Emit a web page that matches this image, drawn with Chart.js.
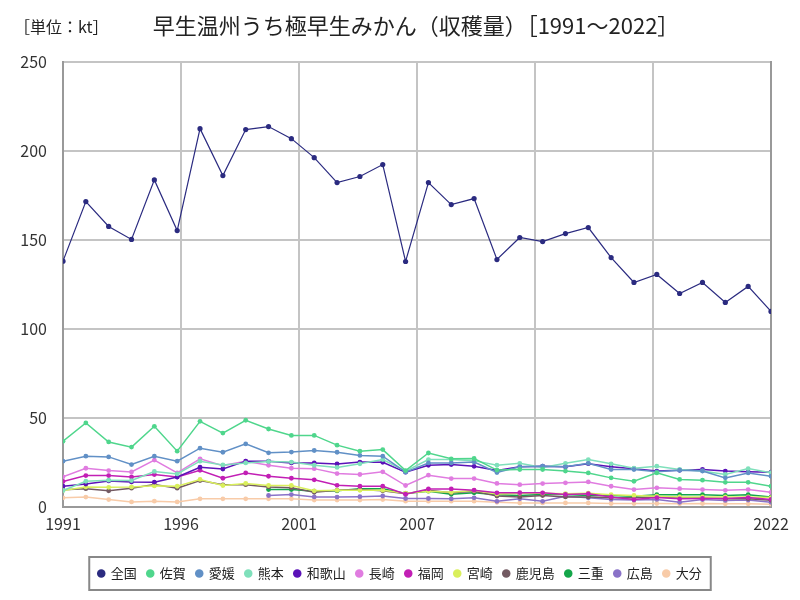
<!DOCTYPE html>
<html>
<head>
<meta charset="utf-8">
<script src="https://cdn.jsdelivr.net/npm/chart.js@4.4.1/dist/chart.umd.min.js"></script>
<style>
  html, body { margin: 0; padding: 0; background: #fff; }
  #wrap { width: 800px; height: 600px; }
</style>
</head>
<body>
<div id="wrap"><canvas id="chart" width="800" height="600"></canvas></div>
<script>
// 早生温州うち極早生みかん 収穫量 (kt), 1991-2022
const titleText = '早生温州うち極早生みかん（収穫量）［1991～2022］';
const unitLabel = '［単位：kt］';

const years = [1991, 1992, 1993, 1994, 1995, 1996, 1997, 1998, 1999, 2000, 2001, 2002, 2003, 2004, 2005, 2006,
               2007, 2008, 2009, 2010, 2011, 2012, 2013, 2014, 2015, 2016, 2017, 2018, 2019, 2020, 2021, 2022];

const zenkoku = [138, 171.5, 157.5, 150.2, 183.7, 155.2, 212.5, 186.1, 212, 213.7, 206.9, 196.2, 182.2, 185.6, 192.3, 137.8,
                 182.2, 169.8, 173.2, 138.9, 151.3, 149, 153.5, 156.9, 140, 126, 130.5, 119.8, 126, 114.8, 123.8, 109.7];
const saga = [36.7, 47, 36.3, 33.4, 45.1, 31.1, 47.9, 41.3, 48.5, 43.6, 40, 40, 34.5, 31.1, 32, 20.2,
              30.1, 26.8, 27, 20.5, 20.8, 20.8, 19.9, 18.9, 16.1, 14.2, 18.9, 15.2, 14.8, 13.6, 13.6, 11.4];
const ehime = [25.5, 28.3, 27.9, 23.6, 28.3, 25.5, 32.8, 30.5, 35.2, 30.2, 30.6, 31.5, 30.5, 28.7, 28.3, 19.3,
               24.5, 24.5, 25, 19.1, 22.3, 22.7, 22.3, 24.3, 20.8, 20.8, 19.5, 20.4, 19.9, 16.1, 18.9, 17];
const kumamoto = [9, 14.2, 14.8, 14.6, 19.7, 18.3, 25.5, 23.4, 24.5, 25.3, 25, 23.2, 22, 24, 26.4, 19.9,
                  26.4, 26.4, 25.8, 23.2, 24.3, 22, 24.3, 26.4, 24, 21.5, 22.7, 20.8, 20, 18, 21.3, 19];
const wakayama = [11.4, 12.6, 14.4, 13.8, 13.7, 16.6, 22.1, 21.1, 25.5, 25.5, 24.5, 24.5, 23.9, 25, 24.9, 19.3,
                  23.2, 23.6, 22.6, 20.2, 22.3, 22.7, 22.3, 24.1, 22.3, 21.3, 19.9, 20.4, 20.8, 19.9, 19.5, 19.3];
const nagasaki = [16.7, 21.5, 20.2, 19.4, 26.1, 18.9, 26.8, 23, 25.5, 23.2, 21.5, 21.3, 18.5, 18, 19.5, 11.8,
                  17.6, 15.7, 15.7, 13, 12.3, 12.9, 13.3, 13.8, 11.4, 9.5, 10.5, 10, 9.5, 9.1, 9.5, 8];
const fukuoka = [14.1, 17.4, 17.4, 16.6, 18, 16.6, 20.4, 15.9, 18.9, 17, 15.9, 15, 11.9, 11.4, 11.4, 6.9,
                 9.9, 9.9, 9.2, 7.7, 7.8, 7.7, 6.8, 7.2, 5.4, 3.9, 5, 4.3, 4.5, 4.5, 5, 4];
const miyazaki = [9, 11, 10.8, 11, 11.6, 11.4, 15.2, 11.8, 13, 11.8, 11.8, 8.8, 9.1, 9.1, 9.2, 7.5,
                  8.6, 8, 9, 7, 7.5, 7.5, 7.2, 7.5, 6.6, 6.2, 5.8, 5.4, 5.4, 5.4, 5.4, 5];
const kagoshima = [9.4, 10, 8.8, 10.3, 12.3, 10.3, 14.6, 12.2, 12.3, 11, 10.5, 8, 9.1, 9.5, 8.8, 7.2,
                   9.2, 7.7, 8.6, 5.9, 5.4, 6.2, 5.4, 5.4, 4.9, 4.9, 5.4, 4.9, 4.9, 4.4, 4.4, 3.5];
const mie = [null, null, null, null, null, null, null, null, null, 9.5, 9.5, 8.6, 8.8, 10, 10, 7.3,
             8.6, 6.9, 7.7, 6.6, 6.2, 6.8, 6.8, 6.2, 6.2, 5.8, 6.6, 6.6, 6.6, 6.2, 6.6, 5.4];
const hiroshima = [null, null, null, null, null, null, null, null, null, 6.2, 6.7, 5.4, 5.3, 5.5, 5.9, 4.5,
                   4.5, 4.3, 4.9, 2.9, 4.3, 2.9, 5.8, 4.9, 4, 3.6, 4, 2.4, 3.9, 3.4, 3.6, 2.4];
const oita = [4.9, 5.3, 3.9, 2.6, 3, 2.6, 4.3, 4.3, 4.3, 4.3, 4.3, 3.6, 3.6, 3.6, 3.9, 3,
              3, 3, 3, 2.4, 2, 2, 2, 2, 1.7, 1.7, 1.7, 1.5, 1.7, 1.5, 1.5, 1.2];

const seriesNames = ['全国', '佐賀', '愛媛', '熊本', '和歌山', '長崎', '福岡', '宮崎', '鹿児島', '三重', '広島', '大分'];
const seriesValues = [zenkoku, saga, ehime, kumamoto, wakayama, nagasaki, fukuoka, miyazaki, kagoshima, mie, hiroshima, oita];
const seriesColors = ['#2b2b80', '#4fd68c', '#6190c6', '#7fe0bb', '#5b12b8', '#e07ce0', '#c21fb5',
                      '#d9ef5c', '#735a62', '#14a64a', '#8a72c8', '#f8cba8'];

const yTicks = [0, 50, 100, 150, 200, 250];
const xDivisions = 6;

const FONT = '"Noto Sans CJK JP", "Noto Sans", sans-serif';

// title, unit label and the frame round the legend
const decorPlugin = {
    id: 'decor',
    afterDraw(chart) {
        const ctx = chart.ctx;
        ctx.save();
        ctx.fillStyle = '#222';
        ctx.textBaseline = 'middle';
        ctx.textAlign = 'left';
        ctx.font = '16px ' + FONT;
        ctx.fillText(unitLabel, 14, 27);
        ctx.textAlign = 'center';
        ctx.font = '22px ' + FONT;
        ctx.fillText(titleText, 416, 26);

        const boxes = chart.legend.legendHitBoxes;
        if (boxes && boxes.length) {
            const left = Math.min(...boxes.map(b => b.left)) - 9;
            const right = Math.max(...boxes.map(b => b.left + b.width)) + 9;
            const top = boxes[0].top - 10;
            const h = boxes[0].height + 20;
            ctx.strokeStyle = '#888';
            ctx.lineWidth = 2;
            ctx.strokeRect(left, top, right - left, h);
        }
        ctx.restore();
    }
};

const datasets = seriesNames.map((name, i) => ({
    label: name,
    data: years.map((yr, j) => ({ x: yr, y: seriesValues[i][j] })),
    borderColor: seriesColors[i],
    backgroundColor: seriesColors[i],
    pointBackgroundColor: seriesColors[i],
    pointBorderColor: seriesColors[i],
    borderWidth: i === 0 ? 1.2 : 1.5,
    pointRadius: i === 0 ? 2.6 : 2.4,
    pointBorderWidth: 0,
    tension: 0,
    spanGaps: false
}));

new Chart(document.getElementById('chart'), {
    type: 'line',
    data: { datasets },
    plugins: [decorPlugin],
    options: {
        responsive: false,
        animation: false,
        layout: { padding: { left: 0, right: 0, top: 62, bottom: 10 } },
        plugins: {
            title: { display: false },
            tooltip: { enabled: false },
            legend: {
                position: 'bottom',
                labels: {
                    usePointStyle: true,
                    pointStyle: 'circle',
                    boxWidth: 6,
                    boxHeight: 6,
                    padding: 10.5,
                    color: '#222',
                    font: { family: FONT, size: 13 }
                }
            }
        },
        scales: {
            x: {
                type: 'linear',
                min: years[0],
                max: years[years.length - 1],
                afterBuildTicks: axis => {
                    const step = (axis.max - axis.min) / xDivisions;
                    axis.ticks = Array.from({ length: xDivisions + 1 }, (_, i) => ({ value: axis.min + i * step }));
                },
                afterFit: axis => { axis.height = 50; },
                ticks: {
                    callback: v => String(Math.round(v)),
                    color: '#333',
                    padding: 8,
                    maxRotation: 0,
                    font: { family: FONT, size: 16 }
                },
                grid: { drawTicks: false, lineWidth: 2, color: '#c4c4c4' },
                border: { color: '#999', width: 2 }
            },
            y: {
                min: 0,
                max: 250,
                afterBuildTicks: axis => { axis.ticks = yTicks.map(v => ({ value: v })); },
                afterFit: axis => { axis.width = 63; },
                ticks: {
                    color: '#333',
                    padding: 16,
                    font: { family: FONT, size: 16 }
                },
                grid: { drawTicks: false, lineWidth: 2, color: '#c4c4c4' },
                border: { color: '#999', width: 2 }
            },
            // empty right-hand axis: keeps the right margin and draws the frame line
            yRight: {
                position: 'right',
                min: 0,
                max: 250,
                afterFit: axis => { axis.width = 29; },
                ticks: { display: false },
                grid: { display: false, drawTicks: false },
                border: { color: '#999', width: 2 }
            }
        }
    }
});
</script>
</body>
</html>
